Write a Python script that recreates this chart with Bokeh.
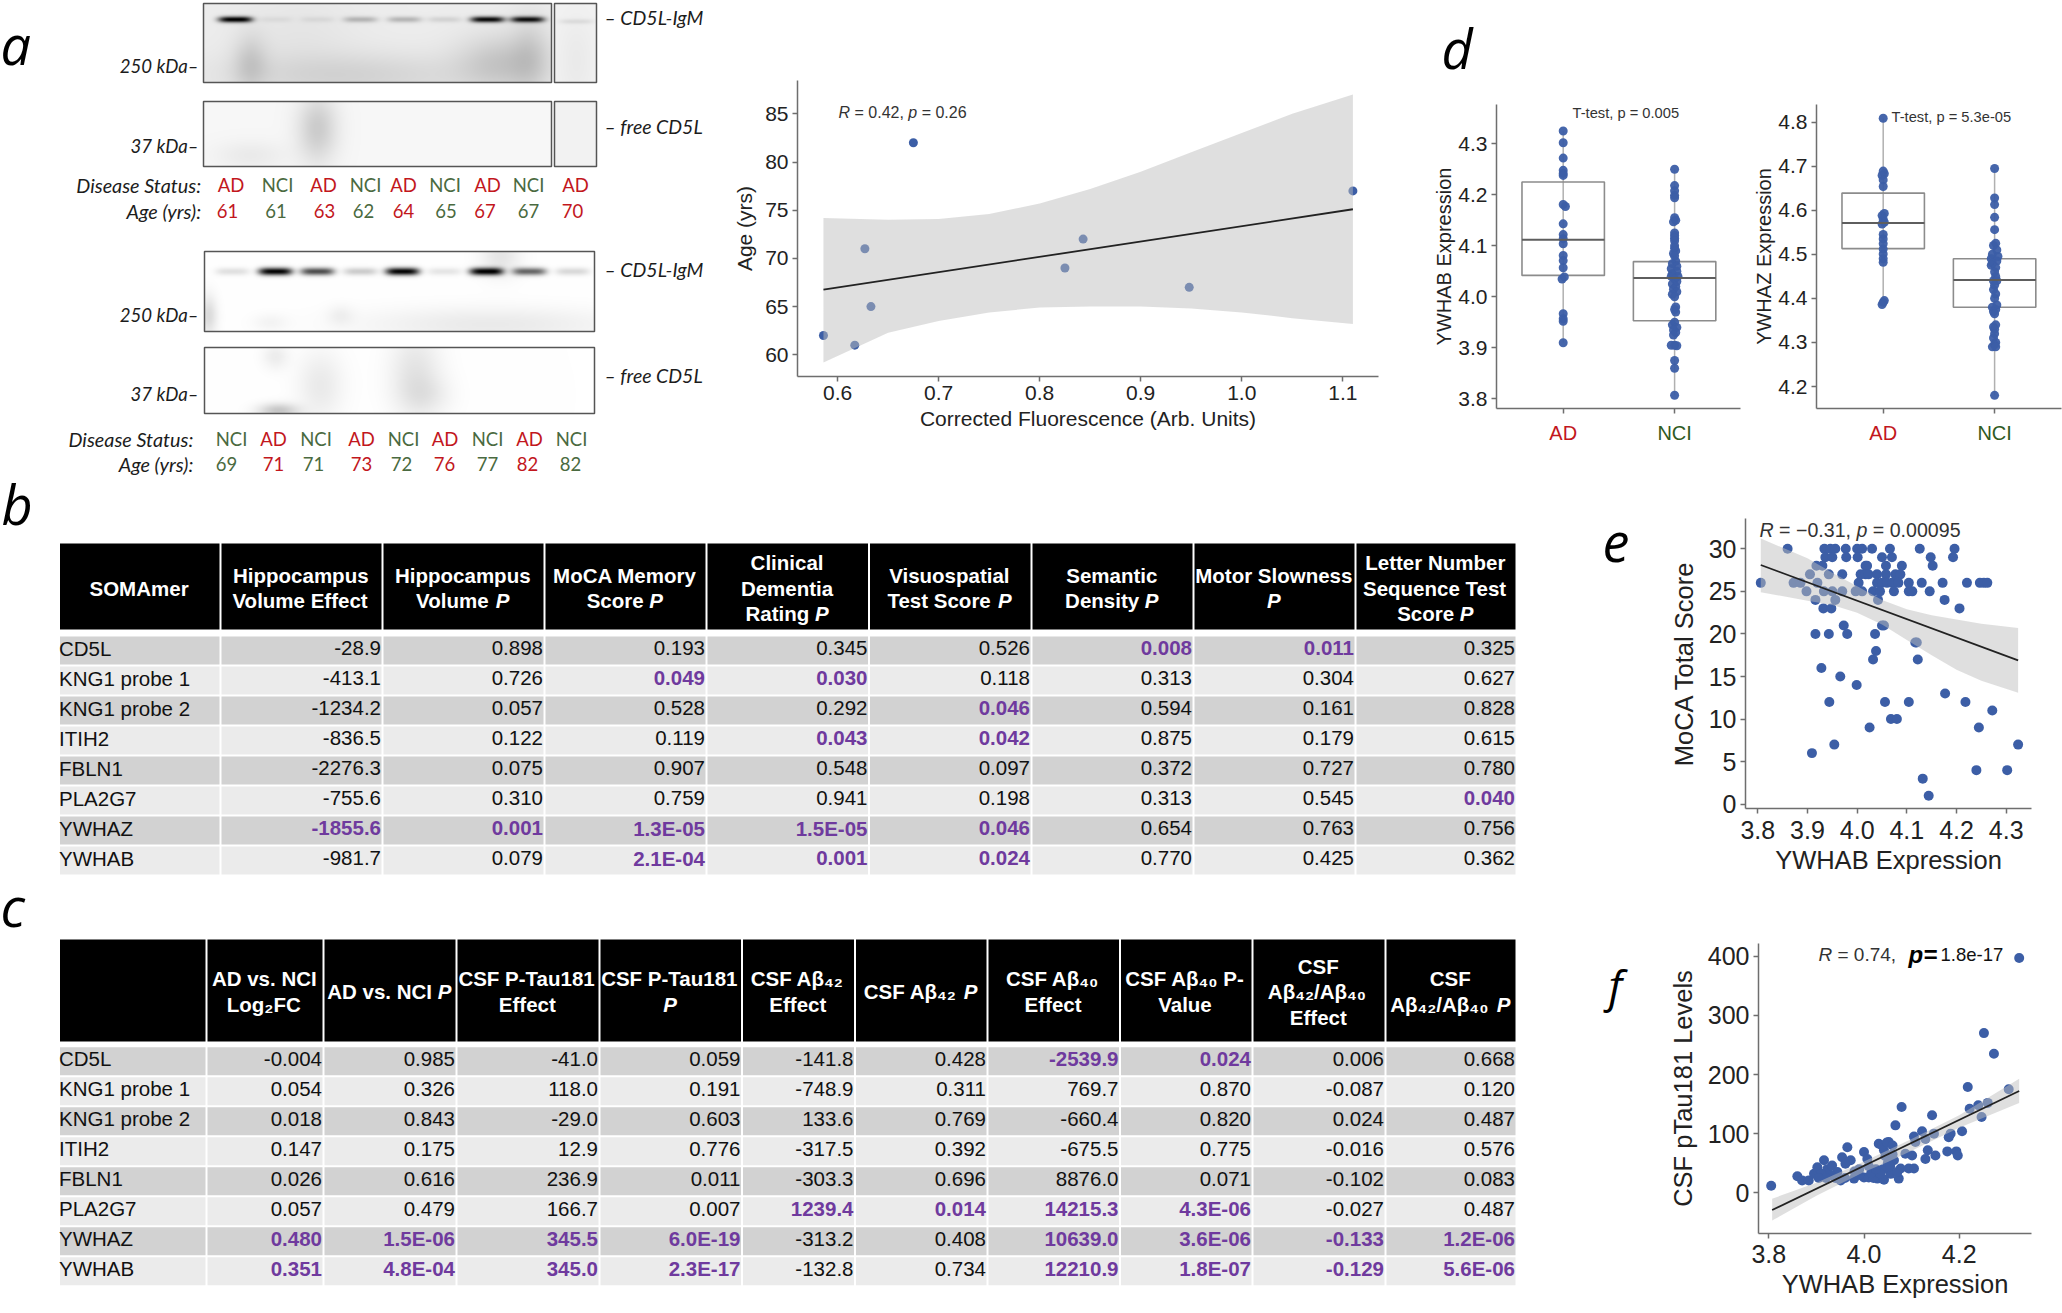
import numpy as np
from bokeh.plotting import figure
from bokeh.layouts import row, column
from bokeh.models import Range1d, FixedTicker, NumeralTickFormatter, Label
from bokeh.core.properties import value
from bokeh.embed import file_html
from bokeh.resources import INLINE

# ---------- data: panel a blots ----------
blot1_bands = [0.95, 0.05, 0.06, 0.22, 0.22, 0.10, 0.90, 0.85, 0.08]
blot3_bands = [0.12, 1.0, 0.70, 0.20, 1.0, 0.10, 1.0, 0.60, 0.15]
status_top = ["AD", "NCI", "AD", "NCI", "AD", "NCI", "AD", "NCI", "AD"]
age_top = ["61", "61", "63", "62", "64", "65", "67", "67", "70"]
status_bot = ["NCI", "AD", "NCI", "AD", "NCI", "AD", "NCI", "AD", "NCI"]
age_bot = ["69", "71", "71", "73", "72", "76", "77", "82", "82"]

# ---------- data: panel a scatter ----------
a_x = [0.586, 0.617, 0.627, 0.633, 0.675, 0.825, 0.843, 0.948, 1.11]
a_y = [62, 61, 71, 65, 82, 69, 72, 67, 77]
a_line_x = [0.586, 1.11]
a_line_y = [66.75, 75.1]
a_band_x = [0.586, 0.65, 0.70, 0.75, 0.80, 0.85, 0.90, 0.95, 1.0, 1.05, 1.11]
a_band_hi = [74.2, 74.0, 74.1, 74.6, 75.7, 77.2, 79.0, 81.0, 83.0, 85.0, 87.0]
a_band_lo = [59.2, 62.3, 63.5, 64.4, 64.9, 65.0, 65.0, 64.8, 64.4, 63.8, 63.2]

# ---------- data: panel d ----------
d1_ad = [4.325, 4.302, 4.272, 4.248, 4.242, 4.238, 4.181, 4.177, 4.143, 4.122, 4.114, 4.104,
         4.081, 4.071, 4.057, 4.039, 4.035, 3.967, 3.957, 3.952, 3.910]
d1_ad_off = [0, 0, 0, 0, 0, 0, 0, 0.02, 0, 0, 0, 0, 0, 0, 0, 0.01, -0.01, 0, 0, 0, 0]
d1_nci = [4.25, 4.218, 4.208, 4.199, 4.194, 4.155, 4.15, 4.147, 4.125, 4.12, 4.115, 4.11, 4.10, 4.095,
          4.09, 4.085, 4.08, 4.07, 4.065, 4.06, 4.055, 4.05, 4.045, 4.04, 4.04, 4.035, 4.03, 4.025, 4.02,
          4.015, 4.01, 4.005, 4.0, 3.98, 3.975, 3.97, 3.95, 3.945, 3.94, 3.935, 3.93, 3.925, 3.905, 3.905,
          3.904, 3.875, 3.86, 3.807]
d1_nci_off = [0, 0, 0, 0, 0, 0, 0.01, -0.01, 0, 0, 0, 0, 0, 0, 0.01, -0.01, 0, 0.01, -0.02, 0.02, -0.03,
              0.02, -0.02, 0.03, -0.03, 0, 0.02, -0.02, 0.01, -0.01, 0.02, -0.02, 0, 0.01, 0, 0.01, 0, -0.02,
              0.02, -0.01, 0.01, -0.01, -0.03, 0, 0.02, 0, 0, 0]
d1_box = [[3.91, 4.042, 4.112, 4.225, 4.325], [3.807, 3.953, 4.037, 4.069, 4.25]]
d2_ad = [4.809, 4.689, 4.683, 4.679, 4.669, 4.654, 4.593, 4.588, 4.58, 4.573, 4.569, 4.545, 4.535, 4.524,
         4.512, 4.501, 4.49, 4.482, 4.395, 4.391, 4.386]
d2_ad_off = [0, 0, 0.01, -0.01, 0, 0, 0.01, -0.01, 0, 0.01, -0.01, 0, 0, 0, 0, 0, 0, 0, 0.01, 0, -0.01]
d2_nci = [4.695, 4.628, 4.613, 4.584, 4.556, 4.525, 4.52, 4.51, 4.50, 4.495, 4.49, 4.485, 4.48, 4.475,
          4.47, 4.46, 4.45, 4.44, 4.44, 4.43, 4.42, 4.41, 4.40, 4.385, 4.38, 4.375, 4.37, 4.365, 4.34,
          4.335, 4.33, 4.32, 4.31, 4.30, 4.295, 4.29, 4.29, 4.18]
d2_nci_off = [0, 0, 0, 0, 0, 0.01, -0.01, 0.02, -0.02, 0.03, -0.03, 0.02, -0.02, -0.03, 0.01, 0, 0.01,
              -0.01, 0.02, 0, -0.01, 0.01, 0, 0.02, -0.02, 0.01, -0.01, 0, 0.01, -0.01, 0, 0, -0.01, 0.01,
              0, -0.02, 0.01, 0]
d2_box = [[4.388, 4.513, 4.571, 4.639, 4.809], [4.18, 4.38, 4.442, 4.49, 4.695]]

# ---------- data: panel e ----------
e_by_score = {
    30: [3.86, 3.934, 3.946, 3.956, 3.977, 4.0, 4.01, 4.03, 4.066, 4.126, 4.196],
    29: [3.936, 3.95, 3.978, 4.001, 4.05, 4.07, 4.148, 4.193],
    28: [3.918, 3.93, 4.017, 4.02, 4.058, 4.09, 4.152],
    27: [3.905, 3.943, 3.97, 4.007, 4.017, 4.023, 4.04, 4.058, 4.077, 4.087],
    26: [3.806, 3.872, 3.886, 3.92, 4.003, 4.04, 4.05, 4.06, 4.07, 4.083, 4.104, 4.13, 4.172, 4.221, 4.247,
         4.255, 4.262],
    25: [3.898, 3.933, 3.95, 3.97, 3.997, 4.01, 4.032, 4.046, 4.074, 4.104, 4.111, 4.146],
    24: [3.916, 3.956, 4.042, 4.176],
    23: [3.932, 3.948, 4.206],
    21: [3.973, 4.05, 4.054],
    20: [3.916, 3.943, 3.98, 4.036],
    19: [4.117, 4.12],
    18: [4.038],
    17: [4.032, 4.122],
    16: [3.928],
    15: [3.966],
    14: [3.999],
    13: [4.177],
    12: [3.944, 4.056, 4.104, 4.218],
    11: [4.272],
    10: [4.068, 4.08],
    9: [4.025, 4.245],
    7: [3.954, 4.324],
    6: [3.909],
    4: [4.24, 4.302],
    3: [4.132],
    1: [4.144],
}
e_line_x = [3.806, 4.324]
e_line_y = [28.1, 16.9]
e_band_x = [3.806, 3.9, 3.95, 4.0, 4.05, 4.1, 4.15, 4.2, 4.25, 4.324]
e_band_hi = [31.2, 28.9, 27.2, 25.6, 24.0, 22.9, 22.2, 21.7, 21.2, 20.7]
e_band_lo = [24.9, 23.9, 23.4, 22.5, 21.1, 19.3, 17.5, 15.8, 14.5, 13.1]

# ---------- data: panel f ----------
f_x = [3.805, 3.86, 3.87, 3.884, 3.895, 3.902, 3.916, 3.923, 3.933, 3.944, 3.951, 3.954, 3.965, 3.972, 3.961,
       3.979, 4.0, 4.007, 4.0, 4.01, 4.021, 4.031, 4.042, 4.052, 4.066, 4.079, 4.028, 4.042, 4.056, 4.063, 4.073,
       4.077, 4.087, 4.094, 4.105, 4.101, 4.105, 4.122, 4.108, 4.129, 4.129, 4.134, 4.143, 4.147, 4.15, 4.175,
       4.178, 4.182, 4.194, 4.197, 4.206, 4.218, 4.222, 4.24, 4.247, 4.26, 4.252, 4.273, 4.304, 4.326,
       3.99, 4.02, 4.03, 4.04, 4.05, 4.06, 4.045, 4.055, 4.07, 4.035, 4.01, 3.99, 3.93, 3.91, 3.94, 3.96, 3.92,
       3.905, 4.038, 4.048, 4.06, 4.015, 4.025, 3.98]
f_y = [12, 28, 21, 21, 32, 43, 55, 40, 46, 35, 21, 60, 77, 55, 49, 24, 69, 57, 26, 26, 38, 83, 72, 86, 114, 145,
       24, 22, 32, 55, 24, 41, 66, 41, 41, 63, 95, 104, 86, 91, 57, 72, 131, 100, 63, 70, 94, 100, 70, 63, 104,
       179, 142, 148, 128, 152, 270, 235, 175, 397, 30, 25, 35, 40, 50, 65, 62, 45, 35, 32, 45, 40, 30, 32, 25,
       25, 25, 25, 80, 85, 80, 33, 40, 36]
f_line_x = [3.807, 4.326]
f_line_y = [-29, 172]
f_band_x = [3.807, 3.9, 4.0, 4.05, 4.1, 4.2, 4.326]
f_band_hi = [-10, 17, 53, 72, 91, 131, 193]
f_band_lo = [-47, -5, 35, 52, 71, 110, 152]

# ---------- data: tables (a trailing * marks a purple cell) ----------
proteins = ["CD5L", "KNG1 probe 1", "KNG1 probe 2", "ITIH2", "FBLN1", "PLA2G7", "YWHAZ", "YWHAB"]
b_headers = [["SOMAmer"], ["Hippocampus", "Volume Effect"], ["Hippocampus", "Volume P"],
             ["MoCA Memory", "Score P"], ["Clinical", "Dementia", "Rating P"], ["Visuospatial", "Test Score P"],
             ["Semantic", "Density P"], ["Motor Slowness", "P"], ["Letter Number", "Sequence Test", "Score P"]]
b_hip_eff = ["-28.9", "-413.1", "-1234.2", "-836.5", "-2276.3", "-755.6", "-1855.6*", "-981.7"]
b_hip_p = ["0.898", "0.726", "0.057", "0.122", "0.075", "0.310", "0.001*", "0.079"]
b_moca = ["0.193", "0.049*", "0.528", "0.119", "0.907", "0.759", "1.3E-05*", "2.1E-04*"]
b_cdr = ["0.345", "0.030*", "0.292", "0.043*", "0.548", "0.941", "1.5E-05*", "0.001*"]
b_visuo = ["0.526", "0.118", "0.046*", "0.042*", "0.097", "0.198", "0.046*", "0.024*"]
b_sem = ["0.008*", "0.313", "0.594", "0.875", "0.372", "0.313", "0.654", "0.770"]
b_motor = ["0.011*", "0.304", "0.161", "0.179", "0.727", "0.545", "0.763", "0.425"]
b_lns = ["0.325", "0.627", "0.828", "0.615", "0.780", "0.040*", "0.756", "0.362"]
b_cols = [b_hip_eff, b_hip_p, b_moca, b_cdr, b_visuo, b_sem, b_motor, b_lns]

c_headers = [[], ["AD vs. NCI", "Log₂FC"], ["AD vs. NCI P"], ["CSF P-Tau181", "Effect"], ["CSF P-Tau181", "P"],
             ["CSF Aβ₄₂", "Effect"], ["CSF Aβ₄₂ P"], ["CSF Aβ₄₀", "Effect"], ["CSF Aβ₄₀ P-", "Value"],
             ["CSF", "Aβ₄₂/Aβ₄₀", "Effect"], ["CSF", "Aβ₄₂/Aβ₄₀ P"]]
c_fc = ["-0.004", "0.054", "0.018", "0.147", "0.026", "0.057", "0.480*", "0.351*"]
c_fc_p = ["0.985", "0.326", "0.843", "0.175", "0.616", "0.479", "1.5E-06*", "4.8E-04*"]
c_tau = ["-41.0", "118.0", "-29.0", "12.9", "236.9", "166.7", "345.5*", "345.0*"]
c_tau_p = ["0.059", "0.191", "0.603", "0.776", "0.011", "0.007", "6.0E-19*", "2.3E-17*"]
c_a42 = ["-141.8", "-748.9", "133.6", "-317.5", "-303.3", "1239.4*", "-313.2", "-132.8"]
c_a42_p = ["0.428", "0.311", "0.769", "0.392", "0.696", "0.014*", "0.408", "0.734"]
c_a40 = ["-2539.9*", "769.7", "-660.4", "-675.5", "8876.0", "14215.3*", "10639.0*", "12210.9*"]
c_a40_p = ["0.024*", "0.870", "0.820", "0.775", "0.071", "4.3E-06*", "3.6E-06*", "1.8E-07*"]
c_ratio = ["0.006", "-0.087", "0.024", "-0.016", "-0.102", "-0.027", "-0.133*", "-0.129*"]
c_ratio_p = ["0.668", "0.120", "0.487", "0.576", "0.083", "0.487", "1.2E-06*", "5.6E-06*"]
c_cols = [c_fc, c_fc_p, c_tau, c_tau_p, c_a42, c_a42_p, c_a40, c_a40_p, c_ratio, c_ratio_p]

# ---------- style ----------
SANS = "Liberation Sans"
BLUE = "#3c5ea6"
SPINE = "#6e6e6e"
INK = "#222222"
RED = "#c2171d"
GREEN = "#2f5a22"
PURPLE = "#6f3a9e"
BAND = "#bdbdbd"
CAL = {}


def PX(p, px):
    return CAL[p.id][0](px)


def PY(p, py):
    return CAL[p.id][1](py)


def panel(fl, ft, fr, fb, L, T, R, B, xcal, ycal):
    """A figure whose frame sits at pixels L,T,R,B of the image; xcal/ycal = (v0,p0,v1,p1)."""
    xs = (xcal[2] - xcal[0]) / (xcal[3] - xcal[1])
    ys = (ycal[2] - ycal[0]) / (ycal[3] - ycal[1])
    X = lambda px: xcal[0] + (px - xcal[1]) * xs
    Y = lambda py: ycal[0] + (py - ycal[1]) * ys
    p = figure(width=fr - fl, height=fb - ft, output_backend="svg", toolbar_location=None, frame_align=False,
               x_range=Range1d(X(L), X(R)), y_range=Range1d(Y(B), Y(T)),
               min_border_left=L - fl, min_border_right=fr - R, min_border_top=T - ft, min_border_bottom=fb - B)
    p.grid.visible = False
    p.outline_line_color = None
    for ax in (p.xaxis[0], p.yaxis[0]):
        ax.axis_line_color = SPINE
        ax.axis_line_width = 1.5
        ax.major_tick_line_color = SPINE
        ax.major_tick_line_width = 1.5
        ax.major_tick_in = 0
        ax.major_tick_out = 5
        ax.minor_tick_line_color = None
        ax.major_label_text_font = SANS
        ax.major_label_text_color = INK
        ax.axis_label_text_font = SANS
        ax.axis_label_text_font_style = "normal"
        ax.axis_label_text_color = INK
    CAL[p.id] = (X, Y)
    return p


def style_axes(p, xticks, yticks, xlab, ylab, tick_px, lab_px, x_stand=(4, 6), y_stand=(4, 6), fmt_x=None, fmt_y=None):
    p.xaxis[0].ticker = FixedTicker(ticks=xticks)
    p.yaxis[0].ticker = FixedTicker(ticks=yticks)
    p.xaxis[0].axis_label = xlab
    p.yaxis[0].axis_label = ylab
    for ax, st, fmt in ((p.xaxis[0], x_stand, fmt_x), (p.yaxis[0], y_stand, fmt_y)):
        ax.major_label_text_font_size = f"{tick_px}px"
        ax.axis_label_text_font_size = f"{lab_px}px"
        ax.major_label_standoff = st[0]
        ax.axis_label_standoff = st[1]
        if fmt:
            ax.formatter = NumeralTickFormatter(format=fmt)


W_REG = {" ": .278, "=": .584, ",": .278, ".": .278, "−": .584, "-": .333, "R": .722, "T": .611, "e": .556, "p": .556,
         "t": .278, "s": .5}


def annot(p, px, py, parts, size, color="#333333"):
    """parts: strings, italic if they are 'R' or 'p'; laid out left to right from pixel px."""
    x = px
    for s in parts:
        lead = len(s) - len(s.lstrip())
        x += lead * .278 * size
        t = s.strip()
        p.add_layout(Label(x=PX(p, x), y=PY(p, py), text=t, text_font=SANS, text_font_size=f"{size}px",
                           text_font_style="italic" if t in ("R", "p") else "normal", text_color=color,
                           text_baseline="middle", text_align="left"))
        x += sum(W_REG.get(c, .556) for c in t) * size
        x += (len(s) - len(s.rstrip())) * .278 * size


def bare(width, height, xr, yr, **kw):
    f = figure(width=width, height=height, output_backend="svg", toolbar_location=None, frame_align=False,
               x_range=xr, y_range=yr, **kw)
    f.axis.visible = False
    f.grid.visible = False
    f.outline_line_color = None
    return f


OS = value("Open Sans")
LAT = value("Lato")


def letters(f, xs, ys, chars, size="54px"):
    f.text(x=xs, y=ys, text=chars, text_font=OS, text_font_style="italic", text_font_size=size,
           text_baseline="alphabetic", text_color="black")


# ---------- panel letters a, b, c live in a strip down the left edge ----------
STRIP_W = 44
LS = bare(STRIP_W, 1313, Range1d(0, STRIP_W), Range1d(1313, 0), min_border=0)
letters(LS, [0, 1, 0], [43, 503, 905], ["a", "b", "c"])

# ---------- panel a blots ----------
AH = 476  # height of the top row
A = bare(722 - STRIP_W, AH, Range1d(STRIP_W, 722), Range1d(0, AH), min_border=0)
LANES1 = [235, 275, 317, 360, 404, 444, 487, 527, 576]
LANES3 = [232, 275, 317, 360, 402, 444, 486, 529, 572]
TXT_DY = -2.5  # text of this font sits a little low for a middle baseline


def ay(v):
    return [AH - u - TXT_DY for u in v]


def blot(x0, y0, x1, y1, lanes, bands, band_y, band_h, smears, base):
    xs = np.arange(x0, x1)[None, :] + .5
    ys = np.arange(y0, y1)[:, None] + .5
    ink = np.full((y1 - y0, x1 - x0), base, dtype=float)
    for cx, cy, sx, sy, amp in smears:
        ink += amp * np.exp(-((xs - cx) / sx) ** 2 / 2 - ((ys - cy) / sy) ** 2 / 2)
    for cx, amp in zip(lanes, bands):
        ink += amp * np.exp(-np.abs((xs - cx) / 17) ** 4 - ((ys - band_y) / band_h) ** 2)
    v = np.clip(255 * (1 - ink), 0, 255).astype(np.uint32)
    img = (255 << 24) | (v << 16) | (v << 8) | v
    A.image_rgba(image=[img[::-1]], x=x0, y=AH - y1, dw=x1 - x0, dh=y1 - y0)
    A.quad(left=[x0], right=[x1], top=[AH - y0], bottom=[AH - y1], fill_color=None, line_color="#555555", line_width=1.5)


smear1 = [(250, 62, 12, 20, .12), (350, 75, 90, 16, .10), (500, 62, 30, 20, .14), (530, 55, 14, 28, .10),
          (300, 35, 40, 30, .03)]
blot(203, 3, 551, 82, LANES1[:8], blot1_bands[:8], 19, 3.0, smear1, .07)
blot(554, 3, 596, 82, LANES1[8:], blot1_bands[8:], 21, 2.5, [(576, 60, 12, 30, .03)], .05)
blot(203, 101, 551, 166, [], [], 0, 1, [(317, 128, 14, 24, .17), (250, 155, 25, 10, .05)], .03)
blot(554, 101, 596, 166, [], [], 0, 1, [], .05)
blot(204, 251, 594, 331, LANES3, blot3_bands, 271, 3.8,
     [(208, 315, 6, 14, .14), (500, 256, 14, 14, .10), (490, 324, 90, 12, .08), (340, 315, 9, 7, .05),
      (270, 322, 12, 6, .04)], 0.0)
blot(204, 347, 594, 413, [], [], 0, 1,
     [(278, 410, 14, 5, .22), (320, 385, 16, 24, .08), (415, 372, 18, 30, .10), (275, 356, 9, 9, .07),
      (425, 395, 18, 14, .06)], 0.0)

GREY_TXT = "#1c1c1c"
A.text(x=[198] * 4, y=ay([68, 148, 317, 396]), text=["250 kDa–", "37 kDa–", "250 kDa–", "37 kDa–"], text_font=LAT,
       text_font_style="italic", text_font_size="18.6px", text_align="right", text_baseline="middle", text_color=GREY_TXT)
A.text(x=[604] * 4, y=ay([19, 128, 271, 377]), text=["– CD5L-IgM", "– free CD5L", "– CD5L-IgM", "– free CD5L"],
       text_font=LAT, text_font_style="italic", text_font_size="19.5px", text_align="left", text_baseline="middle",
       text_color=GREY_TXT)
A.text(x=[200.6, 200.6, 192.8, 192.8], y=ay([187, 213, 441, 466]),
       text=["Disease Status:", "Age (yrs):", "Disease Status:", "Age (yrs):"], text_font=LAT,
       text_font_style="italic", text_font_size="19.8px", text_align="right", text_baseline="middle", text_color=GREY_TXT)


def lane_text(xs, y, labels, status):
    A.text(x=xs, y=ay([y] * len(xs)), text=labels, text_font=LAT, text_font_size="18.5px", text_align="center",
           text_baseline="middle", text_color=[RED if s == "AD" else "#4a6a40" for s in status])


lane_text([230.5, 277, 323, 365, 403, 444.5, 487, 528, 575], 187, status_top, status_top)
lane_text([227, 275.5, 324, 363, 403, 445.5, 484.5, 528, 572], 213, age_top, status_top)
lane_text([231, 273, 315.5, 361, 403, 444.5, 487, 529, 571], 441, status_bot, status_bot)
lane_text([226, 273, 313, 361, 401, 444, 487, 527, 570], 466, age_bot, status_bot)

# ---------- panel a scatter ----------
S = panel(722, 0, 1420, AH, 797, 80, 1378, 376, (0.6, 837.1, 1.1, 1342.3), (85, 113.3, 60, 354.3))
style_axes(S, [.6, .7, .8, .9, 1.0, 1.1], [60, 65, 70, 75, 80, 85], "Corrected Fluorescence (Arb. Units)", "Age (yrs)",
           21, 21, x_stand=(4, 4), fmt_x="0.0")
S.scatter(a_x, a_y, size=9, color=BLUE, line_color=None)
S.varea(x=a_band_x, y1=a_band_lo, y2=a_band_hi, fill_color=BAND, fill_alpha=.49)
S.line(a_line_x, a_line_y, line_color="#222222", line_width=1.8)
annot(S, 838, 112, ["R", " = 0.42, ", "p", " = 0.26"], 16)


# ---------- panel d ----------
def boxpanel(fl, ft, fr, L, R, ycal, yticks, ylab, ad, ad_off, nci, nci_off, box):
    p = panel(fl, ft, fr, 418, L, 104, R, 408, (1, L + 66.7, 2, L + 178.1), ycal)
    style_axes(p, [1, 2], yticks, None, ylab, 21, 20, y_stand=(4, 0), fmt_y="0.0")
    p.xaxis[0].major_label_overrides = {1: " ", 2: " "}
    p.xaxis[0].major_label_text_font_size = "1px"
    p.xaxis[0].major_label_standoff = 0
    for i, (lo, q1, med, q3, hi) in enumerate(box):
        pos = i + 1
        p.segment([pos], [lo], [pos], [hi], line_color="#b0b0b0", line_width=1.5)
        p.quad(left=[pos - .37], right=[pos + .37], bottom=[q1], top=[q3], fill_color=None, line_color="#8c8c8c",
               line_width=1.6)
    p.scatter([1 + o for o in ad_off], ad, size=9, color=BLUE, line_color=None, alpha=.95)
    p.scatter([2 + o for o in nci_off], nci, size=9, color=BLUE, line_color=None, alpha=.95)
    for i, b in enumerate(box):
        p.segment([i + 1 - .37], [b[2]], [i + 1 + .37], [b[2]], line_color="#5e5e5e", line_width=2)
    # the coloured category names sit in a strip under the axis, on the same x scale
    strip = bare(fr - fl, AH - 418, p.x_range, Range1d(AH, 418), min_border_left=L - fl, min_border_right=fr - R,
                 min_border_top=0, min_border_bottom=0)
    strip.text(x=[1, 2], y=[432, 432], text=["AD", "NCI"], text_font=value(SANS), text_font_size="20px",
               text_color=[RED, GREEN], text_align="center", text_baseline="middle")
    return p, strip


D1, D1s = boxpanel(1420, 100, 1745, 1496, 1740, (4.3, 143.3, 3.8, 398.3), [3.8, 3.9, 4.0, 4.1, 4.2, 4.3],
                   "YWHAB Expression", d1_ad, d1_ad_off, d1_nci, d1_nci_off, d1_box)
D2, D2s = boxpanel(1745, 0, 2062, 1816, 2061, (4.8, 121.7, 4.2, 386), [4.2, 4.3, 4.4, 4.5, 4.6, 4.7, 4.8],
                   "YWHAZ Expression", d2_ad, d2_ad_off, d2_nci, d2_nci_off, d2_box)
annot(D1, 1572, 112, ["T-test, p = 0.005"], 14.7)
annot(D2, 1891, 116, ["T-test, p = 5.3e-05"], 14.7)
D1top = bare(325, 100, Range1d(1420, 1745), Range1d(100, 0), min_border=0)
letters(D1top, [1441], [47], ["d"])

# ---------- panel e ----------
E = panel(1650, AH, 2062, 910, 1745, 518, 2031, 808, (3.8, 1757.3, 4.3, 2005.7), (30, 548.3, 0, 803.7))
style_axes(E, [3.8, 3.9, 4.0, 4.1, 4.2, 4.3], [0, 5, 10, 15, 20, 25, 30], "YWHAB Expression", "MoCA Total Score",
           25, 25.5, x_stand=(7, 4), y_stand=(4, 8), fmt_x="0.0")
e_x = [x for s in e_by_score for x in e_by_score[s]]
e_y = [s for s in e_by_score for _ in e_by_score[s]]
E.scatter(e_x, e_y, size=10, color=BLUE, line_color=None)
E.varea(x=e_band_x, y1=e_band_lo, y2=e_band_hi, fill_color=BAND, fill_alpha=.49)
E.line(e_line_x, e_line_y, line_color="#222222", line_width=1.8)
annot(E, 1759, 529, ["R", " = −0.31, ", "p", " = 0.00095"], 19.6)

# ---------- panel f ----------
F = panel(1650, 910, 2062, 1313, 1758, 943, 2031, 1233, (3.8, 1768.3, 4.2, 1958.7), (400, 955.7, 0, 1192.3))
style_axes(F, [3.8, 4.0, 4.2], [0, 100, 200, 300, 400], "YWHAB Expression", "CSF pTau181 Levels", 25, 25.5,
           x_stand=(6, 4), y_stand=(4, 8), fmt_x="0.0")
F.scatter(f_x, f_y, size=10, color=BLUE, line_color=None)
F.varea(x=f_band_x, y1=f_band_lo, y2=f_band_hi, fill_color=BAND, fill_alpha=.49)
F.line(f_line_x, f_line_y, line_color="#222222", line_width=1.8)
annot(F, 1818, 954, ["R", " = 0.74,"], 19)
F.add_layout(Label(x=PX(F, 1908), y=PY(F, 954), text="p=", text_font=SANS, text_font_size="24px", text_font_style="bold italic",
                   text_color="black", text_baseline="middle"))
annot(F, 1940, 954, ["1.8e-17"], 18.5, "#111111")

# ---------- tables ----------
T = bare(1650 - STRIP_W, 1313 - AH, Range1d(STRIP_W, 1650), Range1d(1313, AH), min_border=0)

B_EM = {" ": .278, "a": .556, "b": .611, "c": .556, "d": .611, "e": .556, "f": .333, "g": .611, "h": .611, "i": .278,
        "j": .278, "k": .556, "l": .278, "m": .889, "n": .611, "o": .611, "p": .611, "q": .611, "r": .389, "s": .556,
        "t": .333, "u": .611, "v": .556, "w": .778, "x": .556, "y": .556, "z": .5, "A": .722, "C": .722, "D": .722,
        "E": .667, "F": .611, "H": .722, "I": .278, "K": .722, "L": .611, "M": .833, "N": .722, "O": .778, "P": .667,
        "R": .722, "S": .667, "T": .611, "V": .667, ".": .278, "-": .333, "/": .278, "β": .6}
HEAD_PX = 20.5


def head_w(s):
    return sum(B_EM.get(c, .556 if not ("₀" <= c <= "₉") else .5) for c in s) * HEAD_PX


def table(edges, htop, hbot, hmid, first_row_mid, headers, cols):
    lefts = [e + 1 for e in edges[:-1]]
    rights = [e - 1 for e in edges[1:]]
    T.quad(left=lefts, right=rights, top=[htop] * len(lefts), bottom=[hbot] * len(lefts), fill_color="black", line_color=None)
    nrow = len(proteins)
    mids = [first_row_mid + 30 * i for i in range(nrow)]
    L, R, TT, BB, FC = [], [], [], [], []
    for i, m in enumerate(mids):
        for l, r in zip(lefts, rights):
            L.append(l); R.append(r); TT.append(m - 14); BB.append(m + 14)
            FC.append("#d2d2d2" if i % 2 == 0 else "#ebebeb")
    T.quad(left=L, right=R, top=TT, bottom=BB, fill_color=FC, line_color=None)
    # header text
    hx, hy, ht, px, py = [], [], [], [], []
    for (l, r, lines) in zip(lefts, rights, headers):
        cx = (l + r) / 2 - .7
        for j, line in enumerate(lines):
            y = hmid - 2 + 25.5 * (j - (len(lines) - 1) / 2)
            if line == "P" or line.endswith(" P"):
                body = line[:-2]
                w = head_w(line)
                x0 = cx - w / 2
                if body:
                    hx.append(x0); hy.append(y); ht.append(body)
                px.append(x0 + w - .667 * HEAD_PX); py.append(y)
            else:
                hx.append(cx - head_w(line) / 2); hy.append(y); ht.append(line)
    T.text(x=hx, y=hy, text=ht, text_font=value(SANS), text_font_style="bold", text_font_size=f"{HEAD_PX}px",
           text_color="white", text_baseline="middle", text_align="left")
    T.text(x=px, y=py, text=["P"] * len(px), text_font=value(SANS), text_font_style="bold italic",
           text_font_size=f"{HEAD_PX}px", text_color="white", text_baseline="middle", text_align="left")
    # first column
    txt_mids = [m - 2.5 for m in mids]
    T.text(x=[edges[0]] * nrow, y=txt_mids, text=proteins, text_font=value(SANS), text_font_size="20.5px",
           text_color="#111111", text_baseline="middle", text_align="left")
    # values
    vx, vy, vt, hlx, hly, hlt = [], [], [], [], [], []
    for col, r in zip(cols, rights[1:]):
        for m, s in zip(txt_mids, col):
            if s.endswith("*"):
                hlx.append(r - .5); hly.append(m); hlt.append(s[:-1])
            else:
                vx.append(r - .5); vy.append(m); vt.append(s)
    T.text(x=vx, y=vy, text=vt, text_font=value(SANS), text_font_size="20.5px", text_color="#111111",
           text_baseline="middle", text_align="right")
    T.text(x=hlx, y=hly, text=hlt, text_font=value(SANS), text_font_style="bold", text_font_size="20.5px",
           text_color=PURPLE, text_baseline="middle", text_align="right")


table([58.5, 220, 382, 544, 706, 868.5, 1031, 1193, 1355, 1516], 543, 629, 589.5, 650, b_headers, b_cols)
table([58.5, 206, 323, 456, 599, 741.5, 854.5, 987, 1119.5, 1252, 1385, 1516], 939, 1041, 993, 1060.7, c_headers, c_cols)
letters(T, [1602], [542], ["e"])
letters(T, [1608], [984], ["f"], size="44px")

layout = row(
    LS,
    column(
        row(A, S, column(D1top, D1, D1s, spacing=0), column(D2, D2s, spacing=0), spacing=0),
        row(T, column(E, F, spacing=0), spacing=0),
        spacing=0),
    spacing=0)
open("out.html", "w").write(file_html(layout, INLINE))
